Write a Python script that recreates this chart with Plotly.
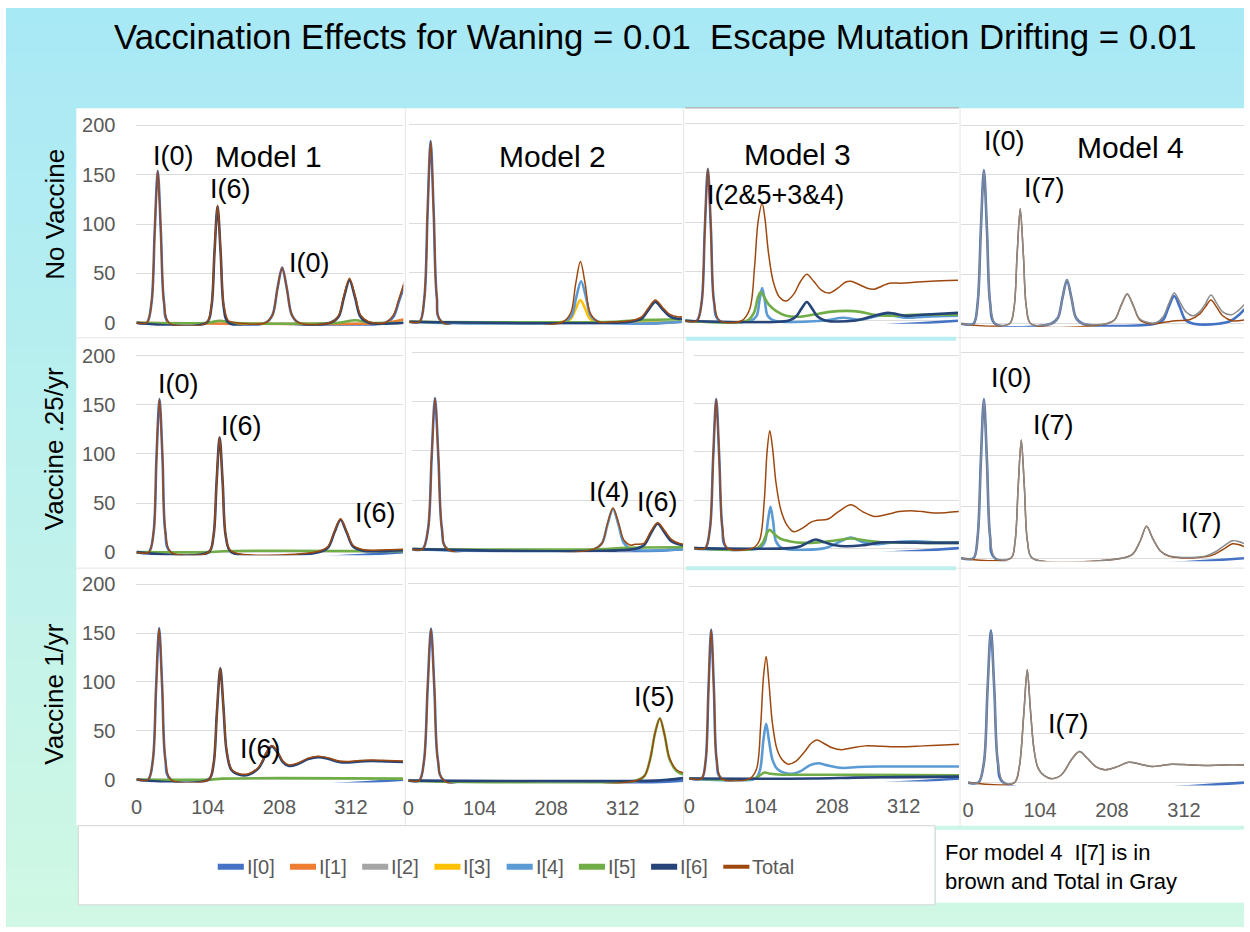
import plotly.graph_objects as go

# Page geometry: the figure sits inside an 8 px body margin and the captured page
# (1260 x 950) is scaled to 1250 x 932, so layout positions are given in final
# pixels and mapped back to paper fractions.
EDGE = 8
XS = 1250 / 1260
YS = 932 / 950
W, H = 1244, 934

def fx(px):
    return (px / XS - EDGE) / W

def fy(py):
    return 1 - (py / YS - EDGE) / H

# ---------------- series data: (week, infected) points ----------------
# Row 1 - no vaccine
nv_m1_i0 = [(0,0),(15,0),(22,21),(26.5,92),(31,154),(35.5,92),(40,21),(47,0),(188,0),(198,8),(205,34),(212,56),(219,34),(226,8),(236,0),(362,0),(374,6),(382,22),(390,38)]
nv_m1_i6 = [(0,0),(102,0),(109,16),(113.5,71),(118,118),(122.5,71),(127,16),(134,0),(282,0),(294,6),(302,26),(310,43),(318,26),(326,6),(338,0),(390,0)]
nv_m1_i5 = [(0,0),(104,0),(121,2),(140,0),(294,0),(318,2.5),(342,0),(390,0)]
nv_m1_i1 = [(0,0),(366,0),(380,2),(390,3.5)]
nv_m1_total = [(0,0),(15,0),(22,21),(26.5,92),(31,154),(35.5,92),(40,21),(47,0),(102,0),(109,17),(113.5,72),(118,119),(122.5,73),(127,18),(134,2),(145,0),(188,0),(198,8),(205,34),(212,56),(219,34),(226,8),(236,0),(282,0),(294,7),(302,28),(310,45),(318,28),(326,8),(338,1),(362,0),(374,8),(382,24),(390,42)]

nv_m2_i0 = [(0,0),(15,0),(22,25),(26.5,110),(31,183),(35.5,110),(40,25),(47,0),(397,0)]
nv_m2_i3 = [(0,0),(224,0),(235,3),(242,13),(249,22),(256,13),(263,3),(274,0),(397,0)]
nv_m2_i4 = [(0,0),(225,0),(236,6),(243,25),(250,41),(257,25),(264,6),(275,0),(397,0)]
nv_m2_i5 = [(0,0),(300,0),(330,1.5),(360,2),(397,2.5)]
nv_m2_i6 = [(0,0),(322,0),(338,3),(348,12),(358,20),(368,13),(378,6),(390,3),(397,3)]
nv_m2_total = [(0,0),(15,0),(22,25),(26.5,110),(31,183),(35.5,110),(40,25),(47,0),(224,0),(235,9),(242,38),(249,61),(256,38),(263,9),(275,0),(300,0),(322,1),(338,5),(348,14),(358,22),(368,15),(378,8),(390,5),(397,5)]

nv_m3_i0 = [(0,0),(17,0),(24,19),(28.5,92),(33,154),(37.5,92),(42,19),(50,0),(397,0)]
nv_m3_i4 = [(0,0),(95,0),(104,5),(108,20),(112,33),(116,20),(120,5),(130,0),(200,0),(230,3),(255,1),(290,6),(320,3),(350,4),(397,5)]
nv_m3_i5 = [(0,0),(90,0),(100,8),(106,24),(110,29),(115,24),(122,16),(132,10),(147,5),(165,4),(185,6),(210,9),(235,10),(255,9),(275,6),(300,5),(330,6),(360,6),(397,6)]
nv_m3_i6 = [(0,0),(150,0),(161,4),(169,12),(177,19),(185,12),(193,4),(205,0),(245,0),(270,4),(295,8),(320,5),(345,6),(397,8)]
nv_m3_total = [(0,0),(17,0),(24,19),(28.5,92),(33,154),(37.5,92),(42,19),(50,0),(82,0),(94,12),(101,55),(106,100),(112,119),(116,104),(121,70),(128,40),(137,24),(147,20),(158,27),(168,40),(177,47),(187,40),(198,31),(209,28),(222,33),(233,39),(241,40),(252,37),(265,33),(275,32),(286,35),(297,38),(315,38),(333,39),(358,40),(397,41)]

nv_m4_i0 = [(0,0),(18,0),(24,21),(28.5,93),(33,155),(37.5,93),(42,21),(49,0),(130,0),(140,6),(146.5,26),(153,44),(159.5,26),(166,6),(176,0),(280,0),(292,4),(300,17),(308,28),(316,17),(324,4),(336,0),(372,0),(390,3),(400,8),(410,15)]
nv_m4_i7 = [(0,0),(70,0),(76.5,16),(81,70),(85.5,116),(90,70),(94.5,16),(101,0),(210,0),(222,4),(231,18),(240,30),(249,18),(258,4),(272,0),(290,1),(310,3),(330,4),(345,10),(353,17),(361,24),(369,17),(378,8),(392,3),(410,4)]
nv_m4_total = [(0,0),(18,0),(24,21),(28.5,93),(33,155),(37.5,93),(42,21),(49,0),(70,0),(76.5,16),(81,70),(85.5,116),(90,70),(94.5,16),(101,0),(130,0),(140,6),(146.5,26),(153,44),(159.5,26),(166,6),(176,0),(210,0),(222,4),(231,18),(240,30),(249,18),(258,5),(272,1),(282,1),(292,7),(300,20),(308,31),(316,22),(325,12),(336,8),(346,13),(353,20),(361,29),(369,21),(378,12),(390,9),(400,13),(410,20)]

# Row 2 - vaccine .25/yr
v25_m1_i0 = [(0,0),(18,0),(25,21),(29,94),(33.5,156),(38,94),(42,21),(50,0),(388,0)]
v25_m1_i6 = [(0,0),(105,0),(112,16),(116.5,70),(121,117),(125.5,70),(130,16),(138,0),(265,0),(279,5),(288,20),(297,33),(306,20),(315,6),(330,1.5),(345,1),(370,1.5),(388,2)]
v25_m1_i5 = [(0,0),(105,0),(125,1),(388,1)]
v25_m1_total = [(0,0),(18,0),(25,21),(29,94),(33.5,156),(38,94),(42,21),(50,0),(105,0),(112,16),(116.5,70),(121,117),(125.5,70),(130,17),(138,1),(265,1),(279,6),(288,21),(297,34),(306,21),(315,7),(330,2.5),(345,2),(370,2.5),(388,3)]

v25_m2_i0 = [(0,0),(15,0),(23,21),(28,92),(33,154),(38,92),(43,21),(51,0),(394,0)]
v25_m2_i4 = [(0,0),(264,0),(276,6),(284,25),(292,41),(300,25),(308,6),(320,0),(394,0)]
v25_m2_i5 = [(0,0),(280,0),(310,1.5),(394,2)]
v25_m2_i6 = [(0,0),(322,0),(337,4),(347,16),(357,26),(367,17),(377,8),(388,5),(394,4)]
v25_m2_total = [(0,0),(15,0),(23,21),(28,92),(33,154),(38,92),(43,21),(51,0),(264,0),(276,6),(284,26),(292,42),(300,27),(308,9),(318,4),(324,5),(337,6),(347,18),(357,27),(367,19),(377,10),(388,6),(394,5)]

v25_m3_i0 = [(0,0),(16,0),(23,21),(27.5,93),(32,155),(36.5,93),(41,21),(48,0),(385,0)]
v25_m3_i4 = [(0,0),(95,0),(103,7),(107,27),(111,43),(115,27),(119,7),(128,0),(190,0),(210,6),(228,11),(246,6),(265,4),(290,6),(320,7),(350,6),(385,6)]
v25_m3_i5 = [(0,0),(92,0),(100,6),(106,16),(110,19),(116,15),(125,10),(140,7),(160,5.5),(180,6),(205,8),(228,10),(250,8),(272,6),(300,6),(340,5.5),(385,5.5)]
v25_m3_i6 = [(0,0),(140,0),(155,2),(166,6),(177,9),(190,6),(205,3),(220,2),(245,3),(272,6),(300,6),(340,5.5),(385,5.5)]
v25_m3_total = [(0,0),(16,0),(23,21),(27.5,93),(32,155),(36.5,93),(41,21),(48,0),(85,0),(95,8),(102,50),(106,100),(110,122),(114,104),(119,68),(126,40),(135,24),(145,17),(158,21),(170,27),(179,29),(194,30),(210,38),(228,45),(245,38),(262,33),(280,35),(298,38),(315,39),(332,38),(349,36.5),(368,37),(385,38)]

v25_m4_i0 = [(0,0),(18,0),(24,21),(28.5,93),(33,155),(37.5,93),(42,21),(49,0),(410,0)]
v25_m4_i7 = [(0,0),(72,0),(78,16),(82.5,69),(87,115),(91.5,69),(96,16),(103,0),(232,0),(248,4),(259,17),(268,31),(277,19),(288,7),(300,2),(315,0.5),(340,0.5),(355,1.5),(367,4),(380,9),(392,14),(402,13),(410,11)]
v25_m4_total = [(0,0),(18,0),(24,21),(28.5,93),(33,155),(37.5,93),(42,21),(49,0),(72,0),(78,16),(82.5,69),(87,115),(91.5,69),(96,16),(103,0),(232,0),(248,4),(259,17),(268,31),(277,19),(288,7),(300,2.5),(315,1),(340,1),(355,2.5),(367,6),(380,12),(392,17),(402,16),(410,14)]

# Row 3 - vaccine 1/yr
v1_m1_i0 = [(0,0),(17,0),(24,21),(28.5,93),(33,155),(37.5,93),(42,21),(50,0),(388,0)]
v1_m1_i6 = [(0,0),(105,0),(112,15),(117,68),(122,114),(126.5,75),(131,30),(138,10),(150,5),(163,5),(178,12),(190,28),(197,34),(205,28),(213,18),(222,14),(235,16),(250,21),(265,23),(280,21),(295,18),(305,17.5),(325,18.5),(343,19),(365,18.5),(388,18)]
v1_m1_i5 = [(0,0),(108,0),(125,1),(388,1)]
v1_m1_total = [(0,0),(17,0),(24,21),(28.5,93),(33,155),(37.5,93),(42,21),(50,0),(105,0),(112,15),(117,68),(122,114),(126.5,75),(131,31),(138,11),(150,6),(163,6),(178,13),(190,29),(197,35),(205,29),(213,19),(222,15),(235,17),(250,22),(265,24),(280,22),(295,19),(305,18.5),(325,19.5),(343,20),(365,19.5),(388,19)]

v1_m2_i0 = [(0,0),(16,0),(23,21),(28,92),(33,154),(38,92),(43,21),(52,0),(400,0)]
v1_m2_i5 = [(0,0),(332,0),(344,5),(352,22),(359,48),(366,63),(373,46),(380,22),(390,10),(400,6)]
v1_m2_i6 = [(0,0),(360,0),(380,1),(400,2.5)]
v1_m2_total = [(0,0),(16,0),(23,21),(28,92),(33,154),(38,92),(43,21),(52,0),(332,0),(344,5),(352,22),(359,48),(366,63),(373,46),(380,23),(390,11),(400,8)]

v1_m3_i0 = [(0,0),(18,0),(24,19),(28,92),(32,155),(36,92),(40,19),(47,0),(393,0)]
v1_m3_i4 = [(0,0),(96,0),(103,9),(108,40),(112,57),(116,40),(121,20),(128,10),(138,6),(150,5),(163,8),(176,14),(188,16),(200,14),(212,12),(225,11),(245,12),(275,12.5),(320,12.5),(393,12.5)]
v1_m3_i5 = [(0,0),(95,0),(104,4),(110,6.3),(118,5),(135,4),(170,4),(250,4),(393,3.5)]
v1_m3_i6 = [(0,0),(180,0),(240,1),(300,1.5),(393,2)]
v1_m3_total = [(0,0),(18,0),(24,19),(28,92),(32,155),(36,92),(40,19),(47,0),(88,0),(98,10),(104,55),(108,105),(112,127),(116,100),(121,58),(128,30),(136,19),(144,15),(155,18),(168,28),(178,37),(186,40),(195,37),(208,32),(222,30),(238,32),(256,34),(280,33.5),(308,33),(340,34),(370,35),(393,35.7)]

v1_m4_i0 = [(0,0),(15,0),(23,21),(28,93),(33,155),(38,93),(43,21),(51,0),(400,0)]
v1_m4_i7 = [(0,0),(67,0),(74,16),(80.5,70),(85.5,115),(90,75),(95,35),(101,15),(110,7),(121,4),(135,8),(150,24),(161,31.6),(172,25),(185,16),(198,13),(215,16),(232,20.7),(250,18.5),(266,16.3),(280,17.5),(295,18.7),(320,18),(343,17.5),(370,18),(400,18)]
v1_m4_total = [(0,0),(15,0),(23,21),(28,93),(33,155),(38,93),(43,21),(51,0),(67,0),(74,16),(80.5,70),(85.5,115),(90,75),(95,35),(101,15),(110,7),(121,4),(135,8),(150,24),(161,31.6),(172,25),(185,16),(198,13),(215,16),(232,20.7),(250,18.5),(266,16.3),(280,17.5),(295,18.7),(320,18),(343,17.5),(370,18),(400,18)]

X_TICKS = [0, 104, 208, 312]
Y_TICKS = [0, 50, 100, 150, 200]
LEGEND_NAMES = ["I[0]", "I[1]", "I[2]", "I[3]", "I[4]", "I[5]", "I[6]", "Total"]
ROW_TITLES = ["No Vaccine", "Vaccine .25/yr", "Vaccine 1/yr"]
MODEL_TITLES = ["Model 1", "Model 2", "Model 3", "Model 4"]

# ---------------- styling ----------------
C = {"I[0]": "#4472C4", "I[1]": "#ED7D31", "I[2]": "#A5A5A5", "I[3]": "#FFC000",
     "I[4]": "#5B9BD5", "I[5]": "#70AD47", "I[6]": "#264478", "Total": "#9E480E"}
GRAY_TOTAL = "#8A8A8A"
FONT = "Liberation Sans, Arial, sans-serif"
THICK, THIN = 2.6, 1.5

# series per panel: (points, colour, width)
panels = [
    [(nv_m1_i0, C["I[0]"], THICK), (nv_m1_i1, C["I[1]"], THICK), (nv_m1_i5, C["I[5]"], THICK), (nv_m1_i6, C["I[6]"], THICK), (nv_m1_total, C["Total"], THIN)],
    [(nv_m2_i0, C["I[0]"], THICK), (nv_m2_i3, C["I[3]"], THICK), (nv_m2_i4, C["I[4]"], THICK), (nv_m2_i5, C["I[5]"], THICK), (nv_m2_i6, C["I[6]"], THICK), (nv_m2_total, C["Total"], THIN)],
    [(nv_m3_i0, C["I[0]"], THICK), (nv_m3_i4, C["I[4]"], THICK), (nv_m3_i5, C["I[5]"], THICK), (nv_m3_i6, C["I[6]"], THICK), (nv_m3_total, C["Total"], THIN)],
    [(nv_m4_i0, C["I[0]"], THICK), (nv_m4_i7, C["Total"], THIN), (nv_m4_total, GRAY_TOTAL, THIN)],
    [(v25_m1_i0, C["I[0]"], THICK), (v25_m1_i5, C["I[5]"], THICK), (v25_m1_i6, C["I[6]"], THICK), (v25_m1_total, C["Total"], THIN)],
    [(v25_m2_i0, C["I[0]"], THICK), (v25_m2_i4, C["I[4]"], THICK), (v25_m2_i5, C["I[5]"], THICK), (v25_m2_i6, C["I[6]"], THICK), (v25_m2_total, C["Total"], THIN)],
    [(v25_m3_i0, C["I[0]"], THICK), (v25_m3_i4, C["I[4]"], THICK), (v25_m3_i5, C["I[5]"], THICK), (v25_m3_i6, C["I[6]"], THICK), (v25_m3_total, C["Total"], THIN)],
    [(v25_m4_i0, C["I[0]"], THICK), (v25_m4_i7, C["Total"], THIN), (v25_m4_total, GRAY_TOTAL, THIN)],
    [(v1_m1_i0, C["I[0]"], THICK), (v1_m1_i5, C["I[5]"], THICK), (v1_m1_i6, C["I[6]"], THICK), (v1_m1_total, C["Total"], THIN)],
    [(v1_m2_i0, C["I[0]"], THICK), (v1_m2_i5, C["I[5]"], THICK), (v1_m2_i6, C["I[6]"], THICK), (v1_m2_total, C["Total"], THIN)],
    [(v1_m3_i0, C["I[0]"], THICK), (v1_m3_i4, C["I[4]"], THICK), (v1_m3_i5, C["I[5]"], THICK), (v1_m3_i6, C["I[6]"], THICK), (v1_m3_total, C["Total"], THIN)],
    [(v1_m4_i0, C["I[0]"], THICK), (v1_m4_i7, C["Total"], THIN), (v1_m4_total, GRAY_TOTAL, THIN)],
]

# plot-area boxes in final pixels: left, right, zero line, 200 line, px per week
boxes = [
    (138, 404, 322, 125, 0.685), (410, 682, 321, 124, 0.685), (685, 957, 320, 123, 0.685), (960, 1242, 323, 125, 0.69),
    (138, 404, 551, 355, 0.685), (413, 683, 548, 352, 0.685), (694, 958, 547, 355, 0.685), (960, 1242, 557, 352, 0.69),
    (138, 404, 778, 583, 0.685), (409, 683, 779, 582, 0.685), (689, 958, 777, 585, 0.685), (967, 1242, 781, 585, 0.69),
]

fig = go.Figure()
layout_axes = {}
PAD = 3
for i, (series, box) in enumerate(zip(panels, boxes)):
    n = i + 1
    sfx = "" if n == 1 else str(n)
    left, right, base, top, spx = box
    k = (base - top) / 200.0
    row, col = divmod(i, 4)
    for pts, color, width in series:
        fig.add_trace(go.Scatter(
            x=[p[0] for p in pts], y=[p[1] for p in pts], mode="lines",
            line=dict(color=color, width=width, shape="spline", smoothing=0.9),
            xaxis="x" + sfx, yaxis="y" + sfx, showlegend=False, hoverinfo="skip"))
    layout_axes["xaxis" + sfx] = dict(
        domain=[fx(left), min(fx(right), 1)], range=[0, (right - left) / spx], anchor="y" + sfx,
        showgrid=False, zeroline=False, showline=False, ticks="",
        tickvals=X_TICKS, showticklabels=(row == 2), ticklabelstandoff=10,
        tickfont=dict(family=FONT, size=20, color="#595959"), fixedrange=True)
    layout_axes["yaxis" + sfx] = dict(
        domain=[fy(base + PAD), fy(top - PAD)],
        range=[-PAD / k, 200 + PAD / k], anchor="x" + sfx,
        showgrid=True, gridcolor="#DCDCDC", gridwidth=1, zeroline=False, showline=False,
        ticks="", tickvals=Y_TICKS, showticklabels=(col == 0), ticklabelstandoff=20,
        tickfont=dict(family=FONT, size=20, color="#595959"), fixedrange=True)

shapes = []
# background gradient, cyan at the top fading to mint at the bottom
top_c, bot_c = (168, 233, 246), (208, 248, 228)
nb = 62
for b in range(nb):
    t = b / (nb - 1)
    col_ = tuple(round(top_c[j] + (bot_c[j] - top_c[j]) * t) for j in range(3))
    shapes.append(dict(type="rect", xref="paper", yref="paper", x0=0, x1=1,
                       y0=1 - (b + 1) / nb - 0.001, y1=1 - b / nb, line_width=0,
                       fillcolor="rgb(%d,%d,%d)" % col_, layer="below"))

def px_rect(x0, y0, x1, y1, fill, line=None, lw=0):
    return dict(type="rect", xref="paper", yref="paper", x0=fx(x0), x1=min(fx(x1), 1),
                y0=fy(y1), y1=fy(y0), fillcolor=fill,
                line=dict(color=line or fill, width=lw), layer="below")

def px_line(x0, y0, x1, y1, color, lw=1):
    return dict(type="line", xref="paper", yref="paper", x0=fx(x0), x1=min(fx(x1), 1),
                y0=fy(y0), y1=fy(y1), line=dict(color=color, width=lw), layer="below")

# chart areas
shapes.append(px_rect(78, 108, 1245, 824, "white"))
for x in (406, 683.5, 959):
    shapes.append(px_line(x, 108, x, 824, "#E4E4E4"))
for y in (337, 567):
    shapes.append(px_line(78, y, 1245, y, "#E4E4E4"))
shapes.append(px_line(685, 107.5, 958, 107.5, "#B8B8B8", 1.5))
shapes.append(px_rect(686, 336, 955, 340, "#B8EEF2"))
shapes.append(px_rect(686, 565, 955, 569, "#C0F0EC"))
# legend box and note box
shapes.append(px_rect(80, 824, 934, 903, "white", "#D4D4D4", 1))
shapes.append(px_rect(935, 828, 1243, 901, "white"))

annotations = []

def txt(x, y, s, size, color="black", xanchor="center", **kw):
    annotations.append(dict(x=fx(x), y=fy(y), xref="paper", yref="paper", text=s,
                            xanchor=xanchor, yanchor="middle", showarrow=False,
                            font=dict(family=FONT, size=size, color=color), **kw))

txt(655, 36, "Vaccination Effects for Waning = 0.01\u00a0\u00a0Escape Mutation Drifting = 0.01", 34.8)

for name, yc in zip(ROW_TITLES, (214, 448, 693)):
    txt(56, yc, name, 26, textangle=-90)

txt(270, 156, MODEL_TITLES[0], 30)
txt(553, 156, MODEL_TITLES[1], 30)
txt(797, 154, MODEL_TITLES[2], 30)
txt(1129, 147, MODEL_TITLES[3], 30)

labels = [
    (175, 156, "I(0)"), (232, 189, "I(6)"), (310, 262, "I(0)"),
    (775, 195, "I(2&5+3&4)"),
    (1003, 141, "I(0)"), (1043, 188, "I(7)"),
    (180, 383, "I(0)"), (243, 425, "I(6)"), (376, 512, "I(6)"),
    (610, 491, "I(4)"), (657, 501, "I(6)"),
    (1010, 377, "I(0)"), (1052, 424, "I(7)"), (1200, 522, "I(7)"),
    (262, 747, "I(6)"), (654, 696, "I(5)"), (1067, 723, "I(7)"),
]
for x, y, s in labels:
    txt(x, y, s, 27)

# legend drawn as a row of line keys with labels
for j, name in enumerate(LEGEND_NAMES):
    sx = 219 + 72 * j
    w = 4 if name == "Total" else 6
    shapes.append(dict(type="line", xref="paper", yref="paper", x0=fx(sx), x1=fx(sx + 26),
                       y0=fy(865), y1=fy(865), line=dict(color=C[name], width=w)))
    txt(sx + 27, 865, name, 20, color="#595959", xanchor="left")

txt(942, 851, "For model 4\u00a0\u00a0I[7] is in", 22, xanchor="left")
txt(942, 880, "brown and Total in Gray", 22, xanchor="left")

fig.update_layout(
    width=W, height=H, margin=dict(l=0, r=0, t=0, b=0),
    paper_bgcolor="white", plot_bgcolor="rgba(0,0,0,0)",
    showlegend=False, shapes=shapes, annotations=annotations, **layout_axes)

fig.write_html("out.html")
